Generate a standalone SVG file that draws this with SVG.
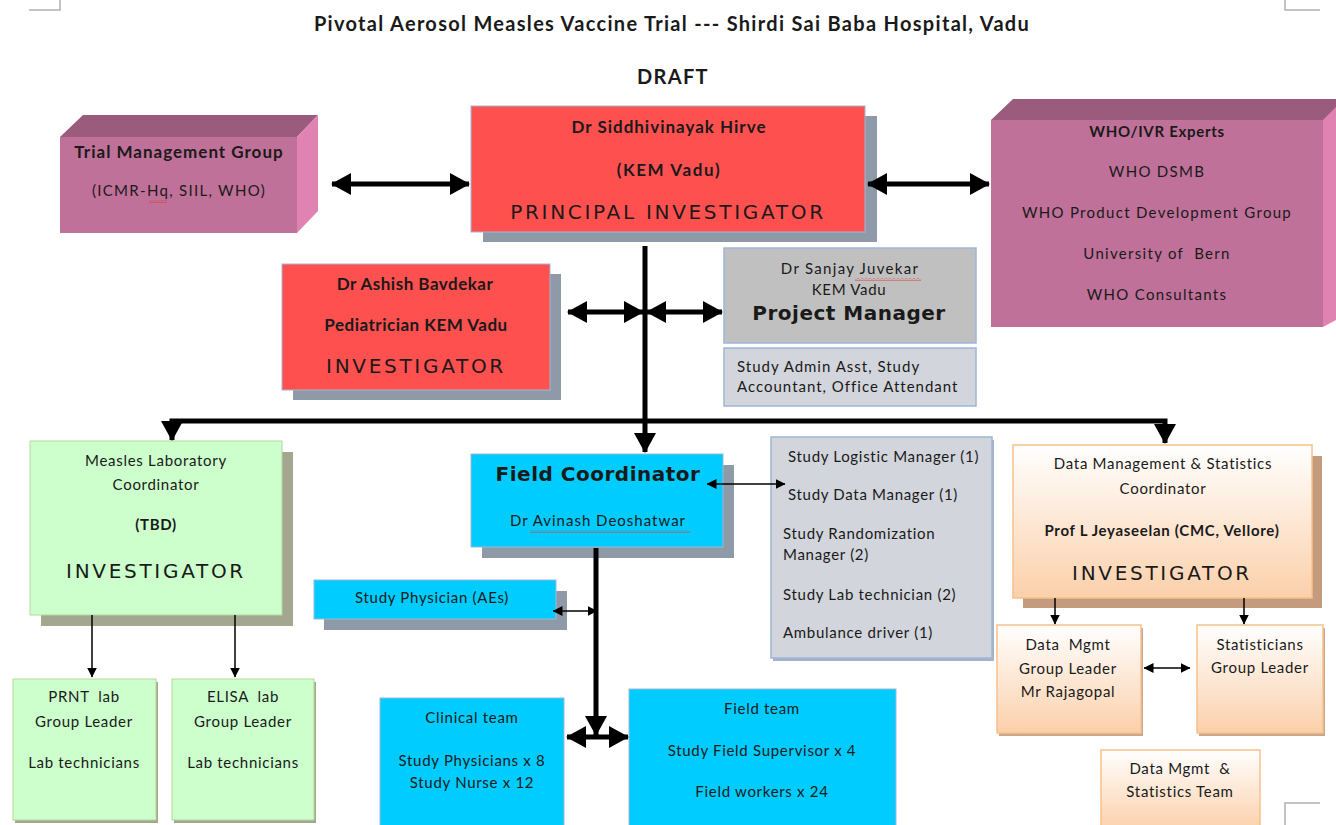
<svg xmlns="http://www.w3.org/2000/svg" width="1336" height="825" viewBox="0 0 1336 825">
  <defs>
    <marker id="thick" viewBox="0 0 20 22" refX="19" refY="11" markerWidth="20" markerHeight="22" markerUnits="userSpaceOnUse" orient="auto-start-reverse">
      <path d="M0,0 L20,11 L0,22 z" fill="#000"/>
    </marker>
    <marker id="thin" viewBox="0 0 10 10" refX="9.5" refY="5" markerWidth="10" markerHeight="10" markerUnits="userSpaceOnUse" orient="auto-start-reverse">
      <path d="M0,0 L10,5 L0,10 z" fill="#000"/>
    </marker>
    <linearGradient id="peach" x1="0" y1="0" x2="0" y2="1">
      <stop offset="0" stop-color="#ffffff"/>
      <stop offset="1" stop-color="#fbd0aa"/>
    </linearGradient>
    <!-- spell-check style underline -->
    <pattern id="wave" width="4" height="3" patternUnits="userSpaceOnUse">
      <path d="M0,0.5 L2,2.5 L4,0.5" fill="none" stroke="#e03030" stroke-width="0.9"/>
    </pattern>
    <style>
      text { font-family: Lato, "Liberation Sans", sans-serif; font-size: 15px; letter-spacing: 0.7px; fill: #1a1a1a; white-space: pre; }
      .c { text-anchor: middle; }
      .b { font-weight: bold; }
      .bb { font-weight: bold; font-size: 17px; letter-spacing: 1px; }
      .title { font-size: 20px; font-weight: bold; letter-spacing: 1.3px; }
      .inv { font-family: "DejaVu Sans", Verdana, sans-serif; font-size: 20px; letter-spacing: 2.7px; }
      .big { font-family: "DejaVu Sans", Verdana, sans-serif; font-size: 20px; font-weight: bold; letter-spacing: 0.5px; }
      .wide { letter-spacing: 1.3px; }
      .shadow { fill: #8e9aa8; }
      .red { fill: #ff5050; stroke: #9fb6d6; stroke-width: 1; }
      .blue { fill: #00ccff; stroke: #9fb6d6; stroke-width: 1; }
      .green { fill: #ccffcc; stroke: #b5d99a; stroke-width: 1; }
      .grey { fill: #c0c0c0; stroke: #9fb6d6; stroke-width: 1.5; }
      .light { fill: #d2d5db; stroke: #9fb6d6; stroke-width: 1.5; }
      .peach { fill: url(#peach); stroke: #f8c08c; stroke-width: 1.5; }
      .front { fill: #c07199; }
      .top { fill: #9b5b7d; }
      .side { fill: #e083b3; }
      .wire { fill: none; stroke: #000; }
      .w5 { stroke-width: 5; }
      .w1 { stroke-width: 1.5; }
      .corner { fill: none; stroke: #b0b0b0; stroke-width: 1.5; }
    </style>
  </defs>

  <!-- page corner marks -->
  <g id="page-marks">
    <path class="corner" d="M29,10 H60 V0"/>
    <path class="corner" d="M1285,0 V10 H1320"/>
    <path class="corner" d="M1320,803 H1285 V825"/>
  </g>

  <g id="heading">
    <text class="title c" x="672" y="31">Pivotal Aerosol Measles Vaccine Trial --- Shirdi Sai Baba Hospital, Vadu</text>
    <text class="title c" x="673" y="84">DRAFT</text>
  </g>

  <g id="trial-management-group">
    <polygon class="top" points="60,137 83,115 318,115 297,137"/>
    <polygon class="side" points="297,137 318,115 318,211 297,233"/>
    <rect class="front" x="60" y="137" width="237" height="96"/>
    <text class="c bb" x="179" y="158">Trial Management Group</text>
    <text class="c wide" x="179" y="196">(ICMR-Hq, SIIL, WHO)</text>
    <rect x="149" y="200" width="18" height="3" fill="url(#wave)"/>
  </g>

  <g id="who-experts">
    <polygon class="top" points="991,120 1013,99 1336,99 1336,120"/>
    <polygon class="side" points="1323,120 1336,107 1336,320 1323,327"/>
    <rect class="front" x="991" y="120" width="332" height="207"/>
    <text class="c b" x="1157" y="137">WHO/IVR Experts</text>
    <text class="c wide" x="1157" y="177">WHO DSMB</text>
    <text class="c wide" x="1157" y="218">WHO Product Development Group</text>
    <text class="c wide" x="1157" y="259">University of  Bern</text>
    <text class="c wide" x="1157" y="300">WHO Consultants</text>
  </g>

  <g id="principal-investigator">
    <rect class="shadow" x="483" y="116" width="394" height="126"/>
    <rect class="red" x="471" y="106" width="394" height="126"/>
    <text class="c bb" x="669" y="133">Dr Siddhivinayak Hirve</text>
    <text class="c bb" x="669" y="176" style="letter-spacing:1.6px">(KEM Vadu)</text>
    <text class="inv c" x="668" y="219">PRINCIPAL INVESTIGATOR</text>
  </g>

  <g id="investigator-bavdekar">
    <rect class="shadow" x="293" y="274" width="268" height="126"/>
    <rect class="red" x="282" y="264" width="268" height="126"/>
    <text class="c bb" x="415" y="290" style="letter-spacing:0.5px">Dr Ashish Bavdekar</text>
    <text class="c bb" x="416" y="331" style="letter-spacing:0.5px">Pediatrician KEM Vadu</text>
    <text class="inv c" x="416" y="373">INVESTIGATOR</text>
  </g>

  <g id="project-manager">
    <rect class="grey" x="724" y="248" width="252" height="95"/>
    <text class="c wide" x="850" y="274">Dr Sanjay Juvekar</text>
    <rect x="855" y="278" width="66" height="3" fill="url(#wave)"/>
    <text class="c" x="849" y="295">KEM Vadu</text>
    <text class="big c" x="849" y="320">Project Manager</text>
  </g>

  <g id="admin-staff">
    <rect class="light" x="724" y="348" width="252" height="58"/>
    <text x="737" y="372" style="letter-spacing:1px">Study Admin Asst, Study</text>
    <text x="737" y="392" style="letter-spacing:1px">Accountant, Office Attendant</text>
  </g>

  <g id="measles-lab-coordinator">
    <rect x="41" y="452" width="252" height="174" fill="#a3a78f"/>
    <rect class="green" x="30" y="441" width="252" height="174"/>
    <text class="c" x="156" y="466">Measles Laboratory</text>
    <text class="c" x="156" y="490">Coordinator</text>
    <text class="c b" x="156" y="530">(TBD)</text>
    <text class="inv c" x="156" y="578">INVESTIGATOR</text>
  </g>

  <g id="prnt-lab">
    <rect x="15" y="682" width="143" height="141" fill="#a3a78f"/>
    <rect class="green" x="13" y="679" width="143" height="141"/>
    <text class="c" x="84" y="702">PRNT  lab</text>
    <text class="c" x="84" y="727">Group Leader</text>
    <text class="c" x="84" y="768">Lab technicians</text>
  </g>

  <g id="elisa-lab">
    <rect x="174" y="682" width="142" height="141" fill="#a3a78f"/>
    <rect class="green" x="172" y="679" width="142" height="141"/>
    <text class="c" x="243" y="702">ELISA  lab</text>
    <text class="c" x="243" y="727">Group Leader</text>
    <text class="c" x="243" y="768">Lab technicians</text>
  </g>

  <g id="field-coordinator">
    <rect class="shadow" x="482" y="465" width="252" height="93"/>
    <rect class="blue" x="471" y="454" width="252" height="93"/>
    <text class="big c" x="598" y="481">Field Coordinator</text>
    <text class="c" x="598" y="526" style="letter-spacing:1px">Dr Avinash Deoshatwar</text>
    <rect x="530" y="530" width="160" height="3" fill="url(#wave)"/>
  </g>

  <g id="study-physician">
    <rect class="shadow" x="324" y="591" width="243" height="39"/>
    <rect class="blue" x="314" y="580" width="242" height="39"/>
    <text class="c" x="432" y="603">Study Physician (AEs)</text>
  </g>

  <g id="field-support-staff">
    <rect x="773" y="440" width="221" height="221" fill="#a7b3c4"/>
    <rect class="light" x="771" y="437" width="221" height="221"/>
    <text x="788" y="462">Study Logistic Manager (1)</text>
    <text x="788" y="500">Study Data Manager (1)</text>
    <text x="783" y="539">Study Randomization</text>
    <text x="783" y="560">Manager (2)</text>
    <text x="783" y="600">Study Lab technician (2)</text>
    <text x="783" y="638">Ambulance driver (1)</text>
  </g>

  <g id="data-statistics-coordinator">
    <rect x="1023" y="456" width="299" height="152" fill="#c49b7c"/>
    <rect class="peach" x="1013" y="445" width="299" height="153"/>
    <text class="c" x="1163" y="469">Data Management &amp; Statistics</text>
    <text class="c" x="1163" y="494">Coordinator</text>
    <text class="c b" x="1162" y="536">Prof L Jeyaseelan (CMC, Vellore)</text>
    <text class="inv c" x="1162" y="580">INVESTIGATOR</text>
  </g>

  <g id="data-mgmt-group-leader">
    <rect x="999" y="628" width="144" height="108" fill="#c9a88e"/>
    <rect class="peach" x="997" y="625" width="144" height="108"/>
    <text class="c" x="1068" y="650">Data  Mgmt</text>
    <text class="c" x="1068" y="674">Group Leader</text>
    <text class="c" x="1068" y="697">Mr Rajagopal</text>
  </g>

  <g id="statisticians-group-leader">
    <rect x="1199" y="628" width="126" height="108" fill="#c9a88e"/>
    <rect class="peach" x="1197" y="625" width="126" height="108"/>
    <text class="c" x="1260" y="650">Statisticians</text>
    <text class="c" x="1260" y="673">Group Leader</text>
  </g>

  <g id="data-statistics-team">
    <rect class="peach" x="1101" y="750" width="159" height="80"/>
    <text class="c" x="1180" y="774">Data Mgmt  &amp;</text>
    <text class="c" x="1180" y="797">Statistics Team</text>
  </g>

  <g id="clinical-team">
    <rect class="blue" x="380" y="698" width="184" height="130"/>
    <text class="c" x="472" y="723">Clinical team</text>
    <text class="c" x="472" y="766">Study Physicians x 8</text>
    <text class="c" x="472" y="788">Study Nurse x 12</text>
  </g>

  <g id="field-team">
    <rect class="blue" x="629" y="689" width="267" height="140"/>
    <text class="c" x="762" y="714">Field team</text>
    <text class="c" x="762" y="756">Study Field Supervisor x 4</text>
    <text class="c" x="762" y="797">Field workers x 24</text>
  </g>

  <!-- connectors, drawn last so the arrowheads sit on top of the boxes -->
  <g id="connectors">
    <line class="wire w5" x1="332" y1="184" x2="469" y2="184" marker-start="url(#thick)" marker-end="url(#thick)"/>
    <line class="wire w5" x1="868" y1="184" x2="989" y2="184" marker-start="url(#thick)" marker-end="url(#thick)"/>
    <line class="wire w5" x1="645" y1="246" x2="645" y2="452" marker-end="url(#thick)"/>
    <polyline class="wire w5" points="172,440 172,421 1165,421 1165,443" marker-start="url(#thick)" marker-end="url(#thick)"/>
    <line class="wire w5" x1="568" y1="312" x2="643" y2="312" marker-start="url(#thick)" marker-end="url(#thick)"/>
    <line class="wire w5" x1="647" y1="312" x2="722" y2="312" marker-start="url(#thick)" marker-end="url(#thick)"/>
    <line class="wire w1" x1="92" y1="615" x2="92" y2="677" marker-end="url(#thin)"/>
    <line class="wire w1" x1="235" y1="615" x2="235" y2="677" marker-end="url(#thin)"/>
    <line class="wire w1" x1="707" y1="484" x2="785" y2="484" marker-start="url(#thin)" marker-end="url(#thin)"/>
    <line class="wire w1" x1="553" y1="611" x2="597" y2="611" marker-start="url(#thin)" marker-end="url(#thin)"/>
    <line class="wire w5" x1="596" y1="548" x2="596" y2="735" marker-end="url(#thick)"/>
    <line class="wire w5" x1="567" y1="737" x2="628" y2="737" marker-start="url(#thick)" marker-end="url(#thick)"/>
    <line class="wire w1" x1="1055" y1="598" x2="1055" y2="624" marker-end="url(#thin)"/>
    <line class="wire w1" x1="1244" y1="598" x2="1244" y2="624" marker-end="url(#thin)"/>
    <line class="wire w1" x1="1144" y1="668" x2="1190" y2="668" marker-start="url(#thin)" marker-end="url(#thin)"/>
  </g>
</svg>
